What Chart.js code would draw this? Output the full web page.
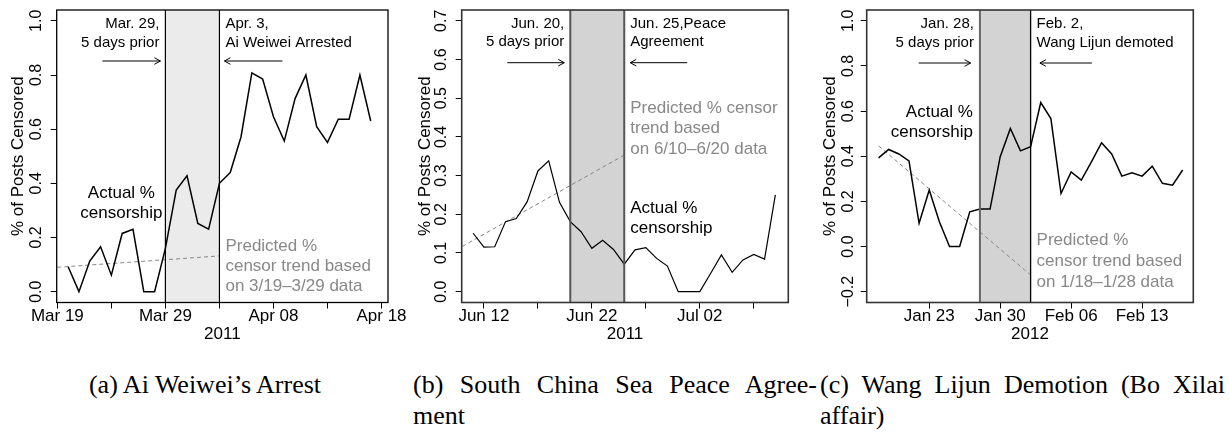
<!DOCTYPE html>
<html>
<head>
<meta charset="utf-8">
<script src="https://cdn.jsdelivr.net/npm/chart.js@4.4.1/dist/chart.umd.min.js"></script>
<style>
  body { margin: 0; background: #fff; width: 1229px; height: 432px; position: relative; overflow: hidden; }
  canvas { position: absolute; top: 0; }
  .cap { position: absolute; font-family: "Liberation Serif", "Times New Roman", serif; font-size: 26px; line-height: 31px; color: #000; }
  .just { text-align: justify; text-align-last: justify; }
</style>
</head>
<body>
<canvas id="c1" width="410" height="350" style="left:0"></canvas>
<canvas id="c2" width="410" height="350" style="left:410px"></canvas>
<canvas id="c3" width="409" height="350" style="left:820px"></canvas>
<div class="cap" style="left:0;width:410px;top:369px;text-align:center">(a) Ai Weiwei’s Arrest</div>
<div class="cap just" style="left:413px;width:404px;top:369px">(b) South China Sea Peace Agree-</div>
<div class="cap" style="left:413px;top:400px">ment</div>
<div class="cap just" style="left:820px;width:405px;top:369px">(c) Wang Lijun Demotion (Bo Xilai</div>
<div class="cap" style="left:820px;top:400px">affair)</div>

<script>
// Ai Weiwei (2011)
const aiDates = ['03-20','03-21','03-22','03-23','03-24','03-25','03-26','03-27','03-28','03-29',
  '03-30','03-31','04-01','04-02','04-03','04-04','04-05','04-06','04-07','04-08',
  '04-09','04-10','04-11','04-12','04-13','04-14','04-15','04-16','04-17'];
const aiCensored = [0.092, 0.0, 0.113, 0.166, 0.061, 0.215, 0.23, 0.0, 0.0, 0.16,
  0.375, 0.428, 0.252, 0.231, 0.40, 0.44, 0.572, 0.808, 0.785, 0.646,
  0.556, 0.713, 0.80, 0.609, 0.551, 0.637, 0.637, 0.80, 0.63];
const aiTrendDates = ['03-19', '04-03'];
const aiTrend = [0.09, 0.132];
const aiTickDates = ['03-19', '03-29', '04-08', '04-18'];
const aiTickLabels = ['Mar 19', 'Mar 29', 'Apr 08', 'Apr 18'];
const aiMinorTicks = ['03-24', '04-03', '04-13'];
const aiYTicks = [0, 0.2, 0.4, 0.6, 0.8, 1.0];

// South China Sea (2011)
const scsDates = ['06-11','06-12','06-13','06-14','06-15','06-16','06-17','06-18','06-19','06-20',
  '06-21','06-22','06-23','06-24','06-25','06-26','06-27','06-28','06-29','06-30',
  '07-01','07-02','07-03','07-04','07-05','07-06','07-07','07-08','07-09'];
const scsCensored = [0.151, 0.115, 0.116, 0.181, 0.189, 0.232, 0.312, 0.338, 0.231, 0.181,
  0.155, 0.112, 0.133, 0.109, 0.071, 0.108, 0.114, 0.086, 0.066, 0.0,
  0.0, 0.0, 0.047, 0.095, 0.05, 0.082, 0.096, 0.084, 0.25];
const scsTrendDates = ['06-10', '06-25'];
const scsTrend = [0.117, 0.353];
const scsTickDates = ['06-12', '06-22', '07-02'];
const scsTickLabels = ['Jun 12', 'Jun 22', 'Jul 02'];
const scsMinorTicks = ['06-17', '06-27', '07-07'];
const scsYTicks = [0, 0.1, 0.2, 0.3, 0.4, 0.5, 0.6, 0.7];

// Wang Lijun (2012)
const wangDates = ['01-18','01-19','01-20','01-21','01-22','01-23','01-24','01-25','01-26','01-27',
  '01-28','01-29','01-30','01-31','02-01','02-02','02-03','02-04','02-05','02-06',
  '02-07','02-08','02-09','02-10','02-11','02-12','02-13','02-14','02-15','02-16','02-17'];
const wangCensored = [0.393, 0.43, 0.41, 0.379, 0.103, 0.25, 0.11, 0.0, 0.0, 0.154,
  0.166, 0.166, 0.398, 0.523, 0.424, 0.442, 0.638, 0.567, 0.235, 0.331,
  0.294, 0.375, 0.46, 0.41, 0.312, 0.327, 0.312, 0.356, 0.28, 0.272, 0.339];
const wangTrendDates = ['01-18', '02-02'];
const wangTrend = [0.446, -0.126];
const wangTickDates = ['01-23', '01-30', '02-06', '02-13'];
const wangTickLabels = ['Jan 23', 'Jan 30', 'Feb 06', 'Feb 13'];
const wangMinorTicks = [];
const wangYTicks = [-0.2, 0, 0.2, 0.4, 0.6, 0.8, 1.0];

const SANS = '"Liberation Sans", Arial, Helvetica, sans-serif';
const GRAY = '#888';

const day = (yr, md) => Date.UTC(yr, +md.slice(0, 2) - 1, +md.slice(3, 5)) / 864e5;

// band, lines, arrows and notes
const notesPlugin = {
  id: 'notes',
  beforeDatasetsDraw(chart, args, o) {
    const { ctx, chartArea: a, scales: { x } } = chart;
    const x0 = x.getPixelForValue(o.band[0]);
    const x1 = x.getPixelForValue(o.band[1]);
    ctx.save();
    ctx.fillStyle = o.bandColor;
    ctx.fillRect(x0, a.top, x1 - x0, a.bottom - a.top);
    ctx.restore();
  },
  afterDatasetsDraw(chart, args, o) {
    const { ctx, chartArea: a, scales: { x } } = chart;
    const x0 = x.getPixelForValue(o.band[0]);
    const x1 = x.getPixelForValue(o.band[1]);
    ctx.save();
    // band edges
    [x0, x1].forEach((px, i) => {
      ctx.strokeStyle = o.edgeColor[i];
      ctx.lineWidth = o.edgeWidth[i];
      ctx.beginPath();
      ctx.moveTo(px, a.top);
      ctx.lineTo(px, a.bottom);
      ctx.stroke();
    });
    // box
    ctx.strokeStyle = o.boxColor;
    ctx.lineWidth = o.boxWidth;
    ctx.strokeRect(a.left, a.top, a.right - a.left, a.bottom - a.top);

    // arrows
    const arrow = (from, to, y) => {
      const dir = Math.sign(to - from);
      ctx.strokeStyle = '#000';
      ctx.lineWidth = 1;
      ctx.beginPath();
      ctx.moveTo(from, y);
      ctx.lineTo(to, y);
      ctx.moveTo(to - dir * 6, y - 3.3);
      ctx.lineTo(to, y);
      ctx.lineTo(to - dir * 6, y + 3.3);
      ctx.stroke();
    };
    arrow(x0 - o.arrowGap - o.arrowLen, x0 - o.arrowGap, o.arrowY);
    arrow(x1 + o.arrowGap + o.arrowLen, x1 + o.arrowGap, o.arrowY);

    // text
    ctx.textBaseline = 'middle';
    o.texts.forEach(t => {
      ctx.font = t.size + 'px ' + SANS;
      ctx.fillStyle = t.color || '#000';
      ctx.textAlign = t.align;
      const bx = (t.at === 'start' ? x0 : x1) + t.dx;
      t.lines.forEach((s, i) => ctx.fillText(s, bx, t.y + i * t.gap));
    });
    ctx.restore();
  }
};

function makePanel(id, p) {
  const xs = p.dates.map(d => day(p.year, d));
  const major = p.tickDates.map(d => day(p.year, d));
  const minor = p.minorTicks.map(d => day(p.year, d));
  const allTicks = major.concat(minor).sort((u, v) => u - v);
  const tickFont = { family: SANS, size: 17 };

  new Chart(document.getElementById(id), {
    type: 'line',
    data: {
      datasets: [
        {
          data: xs.map((x, i) => ({ x, y: p.values[i] })),
          borderColor: '#000',
          borderWidth: p.lineWidth,
          pointRadius: 0,
          tension: 0,
          order: 0
        },
        {
          data: p.trendDates.map((d, i) => ({ x: day(p.year, d), y: p.trend[i] })),
          borderColor: GRAY,
          borderWidth: 1,
          borderDash: [4, 3],
          pointRadius: 0,
          tension: 0,
          order: 1
        }
      ]
    },
    options: {
      responsive: false,
      animation: false,
      devicePixelRatio: 1,
      layout: { padding: { left: 0, right: p.padRight, top: 10, bottom: 0 } },
      plugins: {
        legend: { display: false },
        tooltip: { enabled: false },
        notes: {
          band: p.band.map(d => day(p.year, d)),
          bandColor: p.bandColor,
          edgeColor: p.edgeColor,
          edgeWidth: p.edgeWidth,
          boxColor: p.boxColor,
          boxWidth: p.boxWidth,
          arrowGap: p.arrowGap,
          arrowLen: p.arrowLen,
          arrowY: p.arrowY,
          texts: p.texts
        }
      },
      scales: {
        x: {
          type: 'linear',
          min: day(p.year, p.xRange[0]) + p.xRange[1],
          max: day(p.year, p.xRange[2]) + p.xRange[3],
          afterBuildTicks: s => { s.ticks = allTicks.map(v => ({ value: v })); },
          afterFit: s => { s.height = 47.5; s.paddingLeft = 0; s.paddingRight = 0; },
          grid: { drawOnChartArea: false, drawTicks: true, tickLength: 6, color: '#000', lineWidth: 1 },
          border: { display: false },
          ticks: {
            autoSkip: false, maxRotation: 0, minRotation: 0, padding: -2,
            color: '#000', font: tickFont,
            callback: v => {
              const k = major.findIndex(m => Math.abs(m - v) < 1e-6);
              return k >= 0 ? p.tickLabels[k] : '';
            }
          },
          title: { display: true, text: String(p.year), color: '#000', font: tickFont, padding: { top: 0, bottom: 5 } }
        },
        y: {
          type: 'linear',
          min: p.yRange[0],
          max: p.yRange[1],
          afterBuildTicks: s => { s.ticks = p.yTicks.map(v => ({ value: v })); },
          afterFit: s => { s.width = p.yWidth; s.paddingTop = 0; s.paddingBottom = 0; },
          grid: { drawOnChartArea: false, drawTicks: true, tickLength: 6, color: '#000', lineWidth: 1 },
          border: { display: false },
          ticks: {
            minRotation: 90, maxRotation: 90, crossAlign: 'center', padding: p.yTickPad,
            color: '#000', font: { family: SANS, size: 16 },
            callback: v => {
              const r = Math.round(v * 10) / 10;
              return (r < 0 ? '\u2212' : '') + Math.abs(r).toFixed(1);
            }
          },
          title: { display: true, text: '% of Posts Censored', color: '#000', font: tickFont, padding: { top: p.yTitlePad, bottom: 0 } }
        }
      }
    },
    plugins: [notesPlugin]
  });
}

makePanel('c1', {
  year: 2011, dates: aiDates, values: aiCensored, trendDates: aiTrendDates, trend: aiTrend,
  tickDates: aiTickDates, tickLabels: aiTickLabels, minorTicks: aiMinorTicks, yTicks: aiYTicks,
  xRange: ['03-19', -0.06, '04-18', 0.6], yRange: [-0.04, 1.04],
  padRight: 22, yWidth: 56.7, yTickPad: 2.6, yTitlePad: 8, lineWidth: 1.5,
  band: ['03-29', '04-03'], bandColor: '#ebebeb', edgeColor: ['#000', '#000'], edgeWidth: [1.2, 1.2],
  boxColor: '#000', boxWidth: 1.3,
  arrowGap: 5, arrowLen: 58, arrowY: 61,
  texts: [
    { lines: ['Mar. 29,', '5 days prior'], at: 'start', dx: -6, align: 'right', y: 24, gap: 19, size: 15 },
    { lines: ['Apr. 3,', 'Ai Weiwei Arrested'], at: 'end', dx: 6, align: 'left', y: 24, gap: 19, size: 15 },
    { lines: ['Actual %', 'censorship'], at: 'start', dx: -44, align: 'center', y: 193, gap: 20, size: 17 },
    { lines: ['Predicted %', 'censor trend based', 'on 3/19\u20133/29 data'], at: 'end', dx: 6, align: 'left', y: 246, gap: 20, size: 17, color: GRAY }
  ]
});

makePanel('c2', {
  year: 2011, dates: scsDates, values: scsCensored, trendDates: scsTrendDates, trend: scsTrend,
  tickDates: scsTickDates, tickLabels: scsTickLabels, minorTicks: scsMinorTicks, yTicks: scsYTicks,
  xRange: ['06-10', -0.06, '07-09', 1.2], yRange: [-0.028, 0.728],
  padRight: 31.7, yWidth: 51.7, yTickPad: 2.6, yTitlePad: 4.8, lineWidth: 1.2,
  band: ['06-20', '06-25'], bandColor: '#d3d3d3', edgeColor: ['#555', '#555'], edgeWidth: [2, 2],
  boxColor: '#333', boxWidth: 1.6,
  arrowGap: 6, arrowLen: 57, arrowY: 62.7,
  texts: [
    { lines: ['Jun. 20,', '5 days prior'], at: 'start', dx: -6, align: 'right', y: 24, gap: 18, size: 15 },
    { lines: ['Jun. 25,Peace', 'Agreement'], at: 'end', dx: 6, align: 'left', y: 24, gap: 18, size: 15 },
    { lines: ['Predicted % censor', 'trend based', 'on 6/10\u20136/20 data'], at: 'end', dx: 6, align: 'left', y: 108, gap: 20.5, size: 17, color: GRAY },
    { lines: ['Actual %', 'censorship'], at: 'end', dx: 6, align: 'left', y: 208, gap: 20, size: 17 }
  ]
});

makePanel('c3', {
  year: 2012, dates: wangDates, values: wangCensored, trendDates: wangTrendDates, trend: wangTrend,
  tickDates: wangTickDates, tickLabels: wangTickLabels, minorTicks: wangMinorTicks, yTicks: wangYTicks,
  xRange: ['01-18', -1.17, '02-17', 1.05], yRange: [-0.248, 1.048],
  padRight: 35.7, yWidth: 46.7, yTickPad: -3.4, yTitlePad: 0, lineWidth: 1.5,
  band: ['01-28', '02-02'], bandColor: '#d3d3d3', edgeColor: ['#666', '#000'], edgeWidth: [2, 1.3],
  boxColor: '#333', boxWidth: 1.6,
  arrowGap: 9.3, arrowLen: 52, arrowY: 63,
  texts: [
    { lines: ['Jan. 28,', '5 days prior'], at: 'start', dx: -6, align: 'right', y: 24, gap: 18.5, size: 15 },
    { lines: ['Feb. 2,', 'Wang Lijun demoted'], at: 'end', dx: 6, align: 'left', y: 24, gap: 18.5, size: 15 },
    { lines: ['Actual %', 'censorship'], at: 'start', dx: -7, align: 'right', y: 112, gap: 20, size: 17 },
    { lines: ['Predicted %', 'censor trend based', 'on 1/18\u20131/28 data'], at: 'end', dx: 6, align: 'left', y: 240, gap: 21, size: 17, color: GRAY }
  ]
});
</script>
</body>
</html>
